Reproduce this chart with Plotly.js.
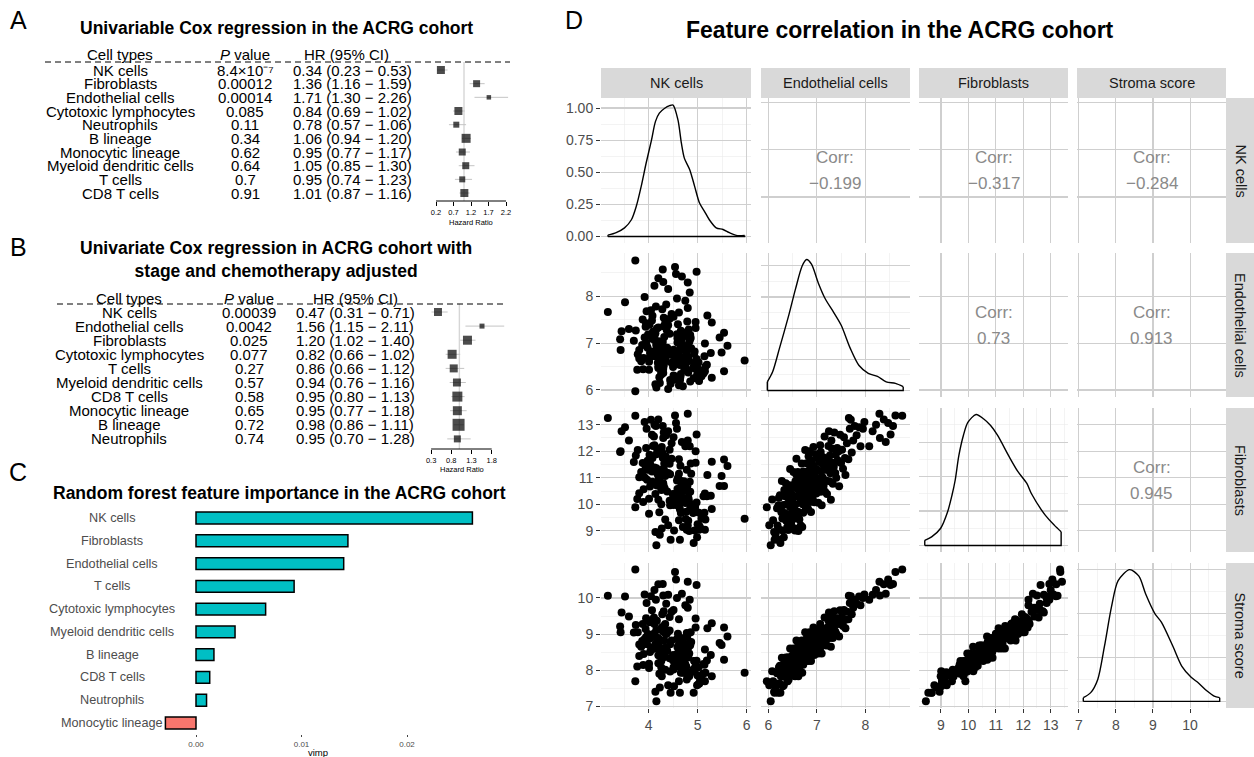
<!DOCTYPE html>
<html><head><meta charset="utf-8">
<script src="https://cdn.plot.ly/plotly-3.0.1.min.js"></script>
<style>html,body{margin:0;padding:0;background:#fff}#chart{width:1254px;height:757px}</style>
</head><body><div id="chart"></div>
<script>
// ---------------- Panel A data ----------------
const cellTypesA = ["NK cells","Fibroblasts","Endothelial cells","Cytotoxic lymphocytes","Neutrophils","B lineage","Monocytic lineage","Myeloid dendritic cells","T cells","CD8 T cells"];
const pValuesA = ["8.4×10⁻⁷","0.00012","0.00014","0.085","0.11","0.34","0.62","0.64","0.7","0.91"];
const hrA = [0.34,1.36,1.71,0.84,0.78,1.06,0.95,1.05,0.95,1.01];
const hrLowA = [0.23,1.16,1.30,0.69,0.57,0.94,0.77,0.85,0.74,0.87];
const hrHighA = [0.53,1.59,2.26,1.02,1.06,1.20,1.17,1.30,1.23,1.16];
const hrTicksA = [0.2,0.7,1.2,1.7,2.2];
// ---------------- Panel B data ----------------
const cellTypesB = ["NK cells","Endothelial cells","Fibroblasts","Cytotoxic lymphocytes","T cells","Myeloid dendritic cells","CD8 T cells","Monocytic lineage","B lineage","Neutrophils"];
const pValuesB = ["0.00039","0.0042","0.025","0.077","0.27","0.57","0.58","0.65","0.72","0.74"];
const hrB = [0.47,1.56,1.20,0.82,0.86,0.94,0.95,0.95,0.98,0.95];
const hrLowB = [0.31,1.15,1.02,0.66,0.66,0.76,0.80,0.77,0.86,0.70];
const hrHighB = [0.71,2.11,1.40,1.02,1.12,1.16,1.13,1.18,1.11,1.28];
const hrTicksB = [0.3,0.8,1.3,1.8];
// ---------------- Panel C data ----------------
const rfFeatures = ["NK cells","Fibroblasts","Endothelial cells","T cells","Cytotoxic lymphocytes","Myeloid dendritic cells","B lineage","CD8 T cells","Neutrophils","Monocytic lineage"];
const rfVimp = [0.0262,0.0144,0.0140,0.0093,0.0066,0.0037,0.0017,0.0013,0.0010,-0.0029];
// ---------------- Panel D data ----------------
const corrVars = ["NK cells","Endothelial cells","Fibroblasts","Stroma score"];
const corrRowNK = [-0.199,-0.317,-0.284];
const corrRowEndo = [0.73,0.913];
const corrRowFib = [0.945];
const nkCells = [4.16,4.14,4.45,3.73,5.03,4.40,4.70,4.23,4.85,4.62,
4.92,5.29,4.64,4.52,5.54,5.15,4.44,5.03,4.64,4.22,4.65,5.08,4.51,4.99,4.26,4.66,5.12,4.30,4.81,4.26,5.05,4.51,
4.01,4.94,3.77,5.11,4.27,4.78,4.01,4.73,4.95,4.30,4.76,4.20,4.91,4.50,5.16,4.20,4.75,4.28,4.64,5.19,4.27,4.72,4.58,4.64,4.19,5.02,3.89,5.00,4.31,4.47,
5.96,4.70,4.33,4.77,3.85,4.55,4.78,4.34,4.60,4.34,4.98,3.81,4.80,4.22,4.32,4.81,4.03,4.63,4.14,5.14,4.08,4.50,4.62,4.43,3.78,4.93,4.29,4.44,5.27,4.03,4.83,3.90,
5.49,5.61,3.43,4.78,4.21,4.94,4.05,4.35,4.63,3.81,4.51,4.65,4.17,4.66,4.87,4.38,3.98,4.70,3.97,4.27,4.78,4.16,4.65,3.87,4.69,4.16,5.15,4.21,
3.42,5.45,3.95,4.59,4.29,4.83,4.21,3.70,4.84,4.12,4.67,4.07,4.59,4.86,3.92,4.32,4.71,4.12,4.11,4.85,3.99,4.58,
5.54,3.45,3.60,4.43,4.14,4.78,4.09,4.66,3.74,4.37,4.82,4.17,4.96,4.20,3.94,4.31,4.40,4.02,
5.29,4.96,5.20,4.60,3.95,4.34,4.79,4.07,3.88,4.43,4.31,4.51,4.08,
3.17,4.05,4.47,4.62,3.96,4.28,4.80,4.15,
3.52,4.75,4.36,4.58,3.92,
4.84,4.30,4.80,4.40,4.12,
3.73,4.54,4.56,4.98,4.29,4.20,4.68];
const endothelial = [6.05,6.12,6.13,5.97,6.19,6.02,6.08,6.15,6.18,6.10,
6.25,6.26,6.20,6.30,6.40,6.40,6.21,6.23,6.24,6.27,6.28,6.29,6.31,6.32,6.33,6.34,6.35,6.36,6.37,6.38,6.39,6.22,
6.60,6.55,6.43,6.41,6.41,6.42,6.43,6.44,6.45,6.45,6.46,6.47,6.48,6.49,6.50,6.50,6.51,6.52,6.53,6.54,6.55,6.56,6.56,6.57,6.58,6.59,6.44,6.47,6.52,6.58,
6.63,6.70,6.60,6.61,6.61,6.62,6.63,6.64,6.64,6.65,6.66,6.67,6.67,6.68,6.69,6.70,6.70,6.71,6.72,6.72,6.73,6.74,6.75,6.75,6.76,6.77,6.77,6.78,6.79,6.79,6.62,6.68,
6.80,6.94,6.85,6.80,6.81,6.82,6.82,6.83,6.84,6.85,6.86,6.86,6.87,6.88,6.89,6.90,6.90,6.91,6.92,6.93,6.93,6.94,6.95,6.96,6.97,6.98,6.99,6.84,
7.08,7.12,7.00,7.01,7.02,7.03,7.04,7.05,7.06,7.07,7.08,7.09,7.10,7.11,7.12,7.13,7.14,7.15,7.16,7.17,7.18,7.19,
7.22,7.25,7.30,7.20,7.21,7.23,7.24,7.26,7.27,7.28,7.29,7.31,7.32,7.33,7.35,7.36,7.38,7.39,
7.44,7.45,7.59,7.40,7.42,7.43,7.46,7.48,7.50,7.52,7.54,7.56,7.58,
7.66,7.70,7.62,7.65,7.68,7.72,7.75,7.78,
7.87,7.90,7.82,7.95,7.98,
8.08,8.30,8.29,8.15,8.22,
8.76,8.62,8.47,8.52,8.57,8.38,8.42];
const fibroblasts = [8.45,8.95,8.66,9.89,9.20,9.21,10.18,8.85,9.85,9.40,
8.54,9.82,8.66,9.01,10.69,9.04,9.96,9.04,10.34,9.70,10.88,9.46,9.97,8.76,10.54,9.67,10.30,10.79,9.38,10.00,9.13,10.25,
9.64,9.01,10.20,9.50,10.73,9.04,10.21,10.50,9.90,11.33,9.44,10.17,9.67,10.37,9.43,10.72,10.05,11.22,9.81,10.30,9.09,10.87,9.99,10.62,11.11,9.69,10.09,9.25,10.68,11.72,
9.45,9.14,10.59,9.72,11.22,10.28,10.77,9.43,10.51,11.07,10.07,10.42,9.20,10.91,11.54,10.26,10.67,10.00,11.24,9.68,10.85,10.39,11.15,10.13,12.05,9.89,10.64,11.13,10.32,11.55,8.99,10.57,
11.07,11.44,12.00,10.20,11.24,9.82,10.84,11.81,10.53,11.02,10.09,11.45,10.71,9.71,11.15,10.48,11.64,10.23,10.92,12.16,10.73,11.36,10.08,11.11,10.65,11.89,10.41,10.74,
11.97,10.69,11.31,10.58,11.75,10.06,10.96,11.59,10.85,12.23,10.47,11.24,9.96,11.54,11.01,11.77,10.70,11.39,12.56,10.47,11.30,10.90,
11.69,12.75,12.40,11.53,10.39,11.30,12.20,10.87,11.84,11.17,10.17,12.10,11.57,10.77,11.41,12.71,11.18,11.87,
11.60,12.00,11.10,11.00,12.12,11.66,10.68,12.62,11.56,12.06,11.34,12.53,11.74,
13.25,13.19,12.30,11.70,12.85,11.95,12.40,12.95,
12.90,12.19,12.60,12.85,13.10,
12.19,12.50,13.41,12.75,13.00,
13.34,13.35,13.06,12.63,12.95,13.20,12.35];
const stromaScore = [7.14,7.40,7.37,7.69,7.62,7.58,7.97,7.52,7.91,7.69,
7.37,7.83,7.37,7.55,8.29,7.69,7.96,7.63,8.12,7.90,8.34,7.82,8.02,7.58,8.25,7.93,8.17,8.35,7.84,8.07,7.76,8.08,
8.06,7.97,8.10,7.90,8.36,7.74,8.18,8.29,8.08,8.60,7.91,8.19,8.01,8.27,7.93,8.41,8.16,8.60,8.09,8.27,7.83,8.50,8.17,8.41,8.60,8.08,8.14,7.85,8.40,8.82,
7.93,7.93,8.41,8.10,8.65,8.31,8.50,8.01,8.41,8.62,8.26,8.39,7.94,8.58,8.82,8.35,8.50,8.26,8.72,8.15,8.58,8.42,8.71,8.33,9.05,8.25,8.53,8.72,8.42,8.88,7.83,8.45,
8.70,8.93,9.05,8.38,8.77,8.25,8.63,9.00,8.53,8.71,8.38,8.88,8.61,8.25,8.78,8.54,8.97,8.46,8.72,9.18,8.65,8.89,8.42,8.81,8.64,9.11,8.57,8.60,
9.21,8.75,8.91,8.64,9.08,8.46,8.80,9.04,8.77,9.28,8.64,8.93,8.46,9.05,8.86,9.15,8.76,9.02,9.46,8.69,9.00,8.86,
9.18,9.60,9.49,9.10,8.68,9.03,9.37,8.89,9.25,9.01,8.65,9.37,9.18,8.89,9.14,9.63,9.07,9.33,
9.30,9.43,9.16,9.01,9.44,9.28,8.93,9.66,9.28,9.47,9.22,9.67,9.39,
10.06,10.05,9.62,9.41,9.86,9.55,9.73,9.95,
10.04,9.80,9.84,10.00,10.10,
9.95,10.07,10.45,10.09,10.22,
10.79,10.72,10.51,10.36,10.39,10.38,10.12];
// density curves
const densNKx = [3.17,3.34,3.51,3.65,3.75,3.85,3.95,4.06,4.14,4.22,4.33,4.43,4.50,4.60,4.67,4.73,4.84,4.94,5.04,5.14,5.24,5.38,5.52,5.65,5.79,5.96];
const densNKy = [0.01,0.03,0.067,0.13,0.235,0.39,0.57,0.75,0.894,0.96,0.998,1.018,1.023,0.907,0.726,0.61,0.52,0.39,0.26,0.196,0.13,0.067,0.054,0.029,0.008,0.008];
const densEndoX = [5.98,6.09,6.23,6.42,6.56,6.70,6.79,6.89,7.03,7.17,7.35,7.50,7.69,7.87,8.06,8.25,8.43,8.62,8.78];
const densEndoY = [0.055,0.12,0.27,0.48,0.65,0.80,0.84,0.81,0.69,0.59,0.50,0.42,0.27,0.16,0.11,0.09,0.055,0.045,0.024];
const densFibX = [8.41,8.66,8.99,9.24,9.40,9.52,9.65,9.82,9.98,10.28,10.56,10.81,11.06,11.47,11.80,12.13,12.30,12.80,13.13,13.38];
const densFibY = [0.015,0.025,0.05,0.097,0.145,0.19,0.26,0.32,0.357,0.38,0.367,0.348,0.32,0.26,0.215,0.18,0.15,0.088,0.059,0.04];
const densStromaX = [7.12,7.32,7.51,7.69,7.88,8.06,8.37,8.62,8.80,9.05,9.23,9.54,9.78,10.03,10.22,10.46,10.65,10.80];
const densStromaY = [0.017,0.04,0.10,0.25,0.43,0.55,0.60,0.57,0.49,0.40,0.36,0.25,0.16,0.11,0.085,0.047,0.024,0.017];

// ---------------- styles ----------------
const boxSizeA = [8,7,4.5,8,6,9,7,7,6,8];
const boxSizeB = [8,5,9,9,8,8,10,9,12,7];
const W = 1254, H = 757;
const px = v => v / W;
const py = v => 1 - v / H;
const FONT = 'Liberation Sans, Arial, Helvetica, sans-serif';
const NARROW = 'Liberation Sans Narrow, Arial Narrow, Liberation Sans, Arial, sans-serif';

const traces = [], annotations = [], shapes = [];
const layout = {width: W, height: H, margin: {l:0,r:0,t:0,b:0,pad:0}, paper_bgcolor:'#fff', plot_bgcolor:'rgba(0,0,0,0)',
  showlegend:false, hovermode:false, font:{family:FONT, color:'#000'}};

function ann(text, x, y, size, extra) {
  const a = {text, x: px(x), y: py(y), xref:'paper', yref:'paper', showarrow:false, xanchor:'center', yanchor:'middle',
    font:{family:FONT, size, color:'#000'}};
  if (extra) { Object.assign(a, extra); if (extra.font) a.font = Object.assign({family:FONT, size, color:'#000'}, extra.font); }
  annotations.push(a);
}
const fmtHR = (h,l,u) => `${h.toFixed(2)} (${l.toFixed(2)} − ${u.toFixed(2)})`;
const fmtCorr = v => v < 0 ? '−' + Math.abs(v) : String(v);

// panel letters
ann('A', 18, 20, 25); ann('B', 18, 247, 25); ann('C', 18, 472, 25); ann('D', 574, 20, 25);

// ---------------- Forest panels ----------------
function forest(opts) {
  const {types, pv, hr, lo, hi, ticks, boxes, ax, title, titleY, headY, rowY0, rowStep, cols, dashY, dashX, axisY,
         xLo, xHi, pxAt, pxScale, hrLabY, hrLabX} = opts;
  ann(title, 276, titleY, 17.5, {font:{family:FONT, size:17.5, color:'#000', weight:'bold'}});
  ann('Cell types', cols[0], headY, 15);
  ann('<i>P</i> value', cols[1], headY, 15);
  ann('HR (95% CI)', cols[3], headY, 15);
  types.forEach((c,i) => {
    const y = rowY0 + i*rowStep;
    ann(c, cols[0], y, 15);
    ann(pv[i], cols[1], y, 15);
    ann(fmtHR(hr[i], lo[i], hi[i]), cols[2], y, 15, {font:{family:NARROW}});
  });
  shapes.push({type:'line', xref:'paper', yref:'paper', x0:px(dashX[0]), x1:px(dashX[1]), y0:py(dashY), y1:py(dashY),
    line:{color:'#000', width:1, dash:'6px,4px'}});
  const d0 = pxAt + (xLo - ticks[0]) * pxScale, d1 = pxAt + (xHi - ticks[0]) * pxScale;
  const n = types.length;
  const yTop = -(rowY0 - dashY) / rowStep, yBot = (n - 1) + (axisY - (rowY0 + (n-1)*rowStep)) / rowStep;
  layout['xaxis' + ax] = {domain:[px(d0), px(d1)], range:[xLo, xHi], anchor:'y' + ax, tickmode:'array', tickvals:ticks,
    ticktext:ticks.map(t => t.toFixed(1)), ticks:'outside', ticklen:4, tickwidth:1, tickcolor:'#000',
    tickfont:{size:7.5, color:'#000'}, showgrid:false, zeroline:false, showline:false, fixedrange:true};
  layout['yaxis' + ax] = {domain:[py(axisY), py(dashY)], range:[yBot, yTop], anchor:'x' + ax, visible:false, fixedrange:true};
  shapes.push({type:'line', xref:'x' + ax, yref:'paper', x0:1, x1:1, y0:py(axisY), y1:py(dashY),
    line:{color:'#d6d6d6', width:1.4}, layer:'below'});
  shapes.push({type:'line', xref:'x' + ax, yref:'paper', x0:ticks[0], x1:ticks[ticks.length-1], y0:py(axisY), y1:py(axisY),
    line:{color:'#000', width:1}});
  const cx = [], cy = [];
  hr.forEach((v,i) => { cx.push(lo[i], hi[i], null); cy.push(i, i, null); });
  traces.push({type:'scatter', mode:'lines', x:cx, y:cy, xaxis:'x' + ax, yaxis:'y' + ax,
    line:{color:'#c4c4c4', width:1}, hoverinfo:'skip'});
  traces.push({type:'scatter', mode:'markers', x:hr, y:hr.map((_,i) => i), xaxis:'x' + ax, yaxis:'y' + ax,
    marker:{symbol:'square', size:boxes, color:'#000', line:{width:0}}, hoverinfo:'skip', cliponaxis:false});
  ann('Hazard Ratio', hrLabX, hrLabY, 7.5);
}
forest({types:cellTypesA, pv:pValuesA, hr:hrA, lo:hrLowA, hi:hrHighA, ticks:hrTicksA, boxes:boxSizeA, ax:2,
  title:'Univariable Cox regression in the ACRG cohort', titleY:28, headY:55, rowY0:70, rowStep:13.67,
  cols:[120, 245, 352, 346], dashY:62, dashX:[45, 510], axisY:201, xLo:0.14, xHi:2.3, pxAt:436, pxScale:35,
  hrLabY:222, hrLabX:471});
forest({types:cellTypesB, pv:pValuesB, hr:hrB, lo:hrLowB, hi:hrHighB, ticks:hrTicksB, boxes:boxSizeB, ax:3,
  title:'Univariate Cox regression in ACRG cohort with<br>stage and chemotherapy adjusted', titleY:259, headY:298,
  rowY0:312, rowStep:14.1, cols:[129, 249, 355, 355], dashY:304, dashX:[57, 505], axisY:449, xLo:0.28, xHi:2.15,
  pxAt:431.1, pxScale:40.4, hrLabY:470, hrLabX:462});

// ---------------- Panel C ----------------
ann('Random forest feature importance in the ACRG cohort', 279, 493, 17.5, {font:{weight:'bold'}});
const cZeroPx = 196, cPxPerUnit = 10550, cDom = [150, 480];
layout.xaxis = {domain:[px(cDom[0]), px(cDom[1])], range:[(cDom[0]-cZeroPx)/cPxPerUnit, (cDom[1]-cZeroPx)/cPxPerUnit],
  anchor:'y', tickmode:'array', tickvals:[0, 0.01, 0.02], ticktext:['0.00','0.01','0.02'], ticks:'outside', ticklen:2,
  tickcolor:'#444', tickfont:{size:8, color:'#4d4d4d'}, showgrid:false, zeroline:false, showline:false, fixedrange:true};
layout.yaxis = {domain:[py(734.4), py(506.6)], type:'category', categoryorder:'array', categoryarray:rfFeatures,
  range:[9.5, -0.5], anchor:'x', showticklabels:false, showgrid:false, zeroline:false, showline:false, ticks:'', fixedrange:true};
traces.push({type:'bar', orientation:'h', x:rfVimp, y:rfFeatures, xaxis:'x', yaxis:'y', width:0.52,
  marker:{color:rfVimp.map(v => v < 0 ? '#F8766D' : '#00BFC4'), line:{color:'#000', width:1.5}}, hoverinfo:'skip'});
rfFeatures.forEach(f => annotations.push({text:f, x:px(112), xref:'paper', y:f, yref:'y', showarrow:false,
  xanchor:'center', yanchor:'middle', font:{family:FONT, size:12.7, color:'#4d4d4d'}}));
ann('vimp', 318, 752, 9.5);

// ---------------- Panel D ----------------
ann('Feature correlation in the ACRG cohort', 900, 30, 23, {font:{weight:'bold'}});
const vars = [nkCells, endothelial, fibroblasts, stromaScore];
const dens = [[densNKx, densNKy], [densEndoX, densEndoY], [densFibX, densFibY], [densStromaX, densStromaY]];
const corrRows = [corrRowNK, corrRowEndo, corrRowFib];
const colDom = [[601,751],[761,910],[919,1068],[1077,1226]];
const rowDom = [[98,243],[253,397],[408,552],[563,708]];
const varRange = [[3.03,6.09],[5.85,8.92],[8.2,13.63],[6.95,10.97]];
const majorTicks = [[4,5,6],[6,7,8],[9,10,11,12,13],[7,8,9,10]];
const minorTicks = [[3.5,4.5,5.5],[6.5,7.5,8.5],[8.5,9.5,10.5,11.5,12.5,13.5],[7.5,8.5,9.5,10.5]];
const densRange = [[-0.051,1.078],[-0.042,0.882],[-0.019,0.399],[-0.03,0.63]];
const densMajor = [[0,0.25,0.5,0.75,1],[0,0.2,0.4,0.6,0.8],[0,0.1,0.2,0.3],[0,0.2,0.4,0.6]];
const densMinor = [[0.125,0.375,0.625,0.875],[0.1,0.3,0.5,0.7],[0.05,0.15,0.25,0.35],[0.1,0.3,0.5]];
const MAJ = '#cfcfcf', MIN = '#ebebeb';
for (let r = 0; r < 4; r++) {
  for (let c = 0; c < 4; c++) {
    const k = 4 + r*4 + c;
    const lowerOrDiag = r >= c;
    const xa = {domain:[px(colDom[c][0]), px(colDom[c][1])], range:varRange[c], anchor:'y'+k, tickmode:'array',
      tickvals:majorTicks[c], ticktext:majorTicks[c].map(String), showgrid:true, gridcolor:MAJ, gridwidth:1.1,
      zeroline:false, showline:false, ticks: r === 3 ? 'outside' : '', ticklen:4, tickwidth:1, tickcolor:'#333',
      showticklabels: r === 3, tickfont:{size:14, color:'#4d4d4d'}, fixedrange:true};
    if (lowerOrDiag) xa.minor = {tickmode:'array', tickvals:minorTicks[c], showgrid:true, gridcolor:MIN, gridwidth:0.6, ticks:''};
    const isDiag = r === c;
    const ya = {domain:[py(rowDom[r][1]), py(rowDom[r][0])], range: isDiag ? densRange[r] : varRange[r], anchor:'x'+k,
      tickmode:'array', tickvals: isDiag ? densMajor[r] : majorTicks[r],
      ticktext: isDiag ? densMajor[r].map(v => v.toFixed(2)) : majorTicks[r].map(String),
      showgrid:true, gridcolor:MAJ, gridwidth:1.1, zeroline:false, showline:false,
      ticks: c === 0 ? 'outside' : '', ticklen:4, tickwidth:1, tickcolor:'#333', showticklabels: c === 0,
      tickfont:{size:14, color:'#4d4d4d'}, fixedrange:true};
    if (lowerOrDiag) ya.minor = {tickmode:'array', tickvals: isDiag ? densMinor[r] : minorTicks[r], showgrid:true, gridcolor:MIN, gridwidth:0.6, ticks:''};
    layout['xaxis'+k] = xa; layout['yaxis'+k] = ya;
    if (r > c) {
      traces.push({type:'scatter', mode:'markers', x:vars[c], y:vars[r], xaxis:'x'+k, yaxis:'y'+k,
        marker:{size:8, color:'#000', line:{width:0}}, hoverinfo:'skip', cliponaxis:false});
    } else if (isDiag) {
      const [dx, dy] = dens[r];
      traces.push({type:'scatter', mode:'lines', x:dx, y:dy, xaxis:'x'+k, yaxis:'y'+k,
        line:{color:'#000', width:1.4, shape:'spline', smoothing:0.8}, hoverinfo:'skip'});
      const n = dx.length - 1;
      traces.push({type:'scatter', mode:'lines', x:[dx[0], dx[0], null, dx[n], dx[n], dx[0]], y:[dy[0], 0, null, dy[n], 0, 0],
        xaxis:'x'+k, yaxis:'y'+k, line:{color:'#000', width:1.4}, hoverinfo:'skip', connectgaps:false});
    } else {
      const mx = (varRange[c][0]+varRange[c][1])/2, my = (varRange[r][0]+varRange[r][1])/2;
      traces.push({type:'scatter', mode:'markers', x:[mx], y:[my], xaxis:'x'+k, yaxis:'y'+k, marker:{opacity:0}, hoverinfo:'skip'});
      const cxp = (colDom[c][0]+colDom[c][1])/2, cyp = (rowDom[r][0]+rowDom[r][1])/2;
      ann('Corr:', cxp, cyp - 13, 17, {font:{color:'#8a8a8a'}});
      ann(fmtCorr(corrRows[r][c-r-1]), cxp, cyp + 13, 17, {font:{color:'#8a8a8a'}});
    }
  }
}
// strips
colDom.forEach((d,i) => {
  shapes.push({type:'rect', xref:'paper', yref:'paper', x0:px(d[0]), x1:px(d[1]), y0:py(98), y1:py(68), fillcolor:'#d9d9d9', line:{width:0}, layer:'below'});
  ann(corrVars[i], (d[0]+d[1])/2, 83, 14.5, {font:{color:'#1a1a1a'}});
});
rowDom.forEach((d,i) => {
  shapes.push({type:'rect', xref:'paper', yref:'paper', x0:px(1226), x1:px(1254), y0:py(d[1]), y1:py(d[0]), fillcolor:'#d9d9d9', line:{width:0}, layer:'below'});
  ann(corrVars[i], 1240, (d[0]+d[1])/2, 14.5, {textangle:90, font:{color:'#1a1a1a'}});
});

layout.annotations = annotations;
layout.shapes = shapes;
Plotly.newPlot('chart', traces, layout, {staticPlot:true, displayModeBar:false});
</script>
</body></html>
